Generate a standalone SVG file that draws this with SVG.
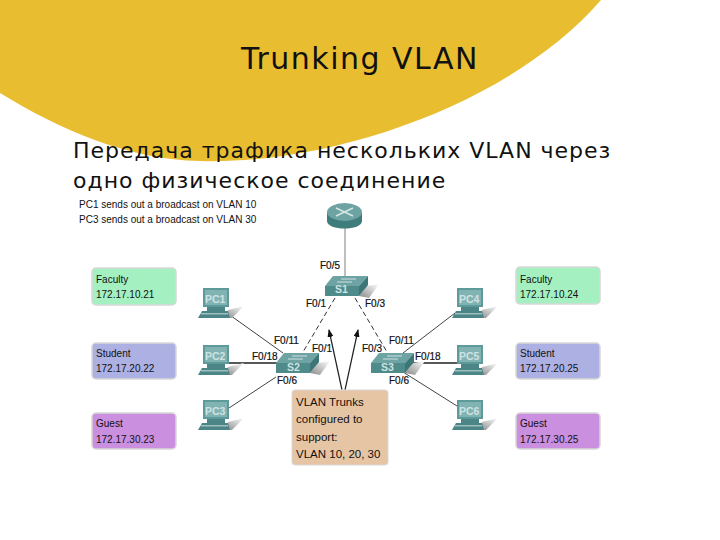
<svg xmlns="http://www.w3.org/2000/svg" width="720" height="540" viewBox="0 0 720 540">
<style>
text{font-family:"Liberation Sans",Arial,sans-serif;fill:#111}
.title{font-family:"DejaVu Sans",sans-serif;font-size:30px;letter-spacing:1.5px;fill:#111}
.sub{font-family:"DejaVu Sans",sans-serif;font-size:22px;letter-spacing:1px;fill:#111}
.head{font-size:10px}
.lab{font-size:10px}
.port{font-size:10px;stroke:#111;stroke-width:.2}
.note{font-size:11.5px}
.info{stroke:#d8d8d8;stroke-width:1.5}
.pcl{font-size:10.5px;fill:#cfe2e2;font-weight:bold}
.swl{font-size:10.5px;fill:#cfe2e2;font-weight:bold}
.w{fill:none;stroke:#444;stroke-width:1}
.k{fill:none;stroke:#222;stroke-width:1.5}
.g{fill:none;stroke:#aaa;stroke-width:1.5}
.t{fill:none;stroke:#333;stroke-width:1;stroke-dasharray:5 3}
.r{fill:none;stroke:#222;stroke-width:1.2}
</style>
<defs>
<marker id="a" markerWidth="8" markerHeight="8" refX="7" refY="3" orient="auto" markerUnits="userSpaceOnUse"><path d="M0 0L8 3L0 6Z" fill="#111"/></marker>
<linearGradient id="sh" x1="0" y1="1" x2="1" y2="0"><stop offset="0" stop-color="#888"/><stop offset="1" stop-color="#fff"/></linearGradient>
<g id="pc">
<path d="M30 22L46 18L34 30H26Z" fill="url(#sh)"/>
<rect x="5" y="0" width="26" height="19" fill="#5f9a9a"/>
<rect x="7" y="2" width="22" height="15" fill="#82b3b3"/>
<rect x="9" y="19" width="18" height="4" fill="#4c8585"/>
<path d="M4 23H30L32 30H0Z" fill="#4c8585"/>
<rect x="3" y="25" width="27" height="1.5" fill="#9cc0c0"/>
</g>
<g id="sw">
<path d="M34 20L42 10L54 8L44 22Z" fill="url(#sh)"/>
<path d="M8 0H43L34 10H0Z" fill="#6ea3a3"/>
<path d="M0 10H34V20H0Z" fill="#4f8b8b"/>
<path d="M34 10L43 0V9L34 20Z" fill="#3d7676"/>
<path d="M16 3H31M12 6H27" stroke="#cfe0e0" stroke-width="1"/>
</g>
</defs>
<rect width="720" height="540" fill="#fff"/>
<path d="M0 0H601C510 105 330 165 200 161C130 160 60 130 0 93Z" fill="#e9bd30"/>
<text class="title" x="241" y="69">Trunking VLAN</text>
<text class="sub" x="73" y="158">Передача трафика нескольких VLAN через</text>
<text class="sub" x="73" y="188">одно физическое соединение</text>
<text class="head" x="79" y="208">PC1 sends out a broadcast on VLAN 10</text>
<text class="head" x="79" y="223">PC3 sends out a broadcast on VLAN 30</text>
<g id="connectors">
<path class="g" d="M345 228V277"/>
<path class="w" d="M227 313L283 353M229 408L276 377M455 313L403 353M457 406L403 372"/>
<path class="k" d="M227 363H277M412 363H457"/>
<path class="t" d="M335 298L303 352M355 298L387 352"/>
<path class="r" marker-end="url(#a)" d="M342 390L329 330"/>
<path class="r" marker-end="url(#a)" d="M345 390L358 330"/>
</g>
<g id="router"><path d="M327 212V221C327 231 362 231 362 221V212Z" fill="#3f7c7c"/><ellipse cx="344.500" cy="212" rx="17.500" ry="9" fill="#6ea3a3"/><path d="M336 208L353 216M353 208L336 216" stroke="#d5e6e6" stroke-width="1.500"/></g>
<g id="s1"><use href="#sw" x="325" y="276"/><text class="swl" x="335" y="293">S1</text></g>
<g id="s2"><use href="#sw" x="276" y="353"/><text class="swl" x="287" y="371">S2</text></g>
<g id="s3"><use href="#sw" x="371" y="353"/><text class="swl" x="381" y="371">S3</text></g>
<g id="pc1"><use href="#pc" x="198" y="288"/><text class="pcl" x="205" y="303">PC1</text></g>
<g id="pc2"><use href="#pc" x="198" y="345"/><text class="pcl" x="205" y="360">PC2</text></g>
<g id="pc3"><use href="#pc" x="198" y="400"/><text class="pcl" x="205" y="415">PC3</text></g>
<g id="pc4"><use href="#pc" x="452" y="288"/><text class="pcl" x="459" y="303">PC4</text></g>
<g id="pc5"><use href="#pc" x="452" y="345"/><text class="pcl" x="459" y="360">PC5</text></g>
<g id="pc6"><use href="#pc" x="452" y="400"/><text class="pcl" x="459" y="415">PC6</text></g>
<g id="faculty1"><rect class="info" x="92" y="268" width="84" height="37" rx="4" fill="#a4f0c0"/><text class="lab" x="96" y="283">Faculty</text><text class="lab" x="96" y="298">172.17.10.21</text></g>
<g id="student1"><rect class="info" x="92" y="343" width="84" height="36" rx="4" fill="#adb0e2"/><text class="lab" x="96" y="357">Student</text><text class="lab" x="96" y="372">172.17.20.22</text></g>
<g id="guest1"><rect class="info" x="92" y="413" width="84" height="36" rx="4" fill="#cb8fe0"/><text class="lab" x="96" y="427">Guest</text><text class="lab" x="96" y="443">172.17.30.23</text></g>
<g id="faculty2"><rect class="info" x="516" y="267" width="84" height="37" rx="4" fill="#a4f0c0"/><text class="lab" x="520" y="283">Faculty</text><text class="lab" x="520" y="298">172.17.10.24</text></g>
<g id="student2"><rect class="info" x="516" y="343" width="84" height="36" rx="4" fill="#adb0e2"/><text class="lab" x="520" y="357">Student</text><text class="lab" x="520" y="372">172.17.20.25</text></g>
<g id="guest2"><rect class="info" x="516" y="413" width="84" height="36" rx="4" fill="#cb8fe0"/><text class="lab" x="520" y="427">Guest</text><text class="lab" x="520" y="443">172.17.30.25</text></g>
<g id="note"><rect x="292" y="390" width="96" height="75" rx="3" fill="#e6c5a5" stroke="#d8d8d8"/><text class="note" x="296" y="406">VLAN Trunks</text><text class="note" x="296" y="423">configured to</text><text class="note" x="296" y="441">support:</text><text class="note" x="296" y="458">VLAN 10, 20, 30</text></g>
<g id="ports">
<text class="port" x="320" y="269">F0/5</text><text class="port" x="306" y="307">F0/1</text><text class="port" x="365" y="307">F0/3</text>
<text class="port" x="274" y="344">F0/11</text><text class="port" x="312" y="352">F0/1</text><text class="port" x="252" y="360">F0/18</text><text class="port" x="277" y="384">F0/6</text>
<text class="port" x="362" y="352">F0/3</text><text class="port" x="389" y="344">F0/11</text><text class="port" x="415" y="360">F0/18</text><text class="port" x="389" y="384">F0/6</text>
</g>
</svg>
